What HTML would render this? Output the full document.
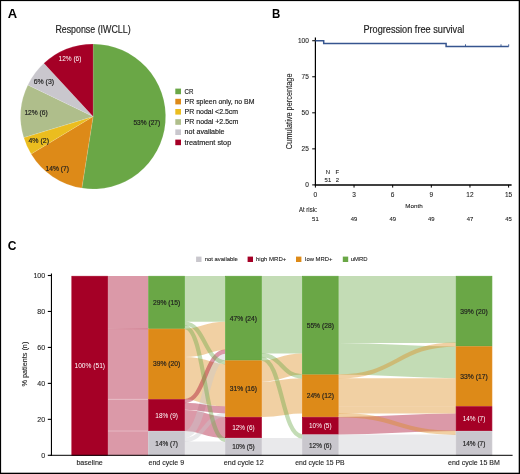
<!DOCTYPE html><html><head><meta charset="utf-8"><style>html,body{margin:0;padding:0;background:#fff;}svg{display:block;will-change:transform;}text{font-family:"Liberation Sans", sans-serif;}</style></head><body>
<svg width="520" height="474" viewBox="0 0 520 474">
<rect x="0" y="0" width="520" height="474" fill="#fff"/>
<text x="7.70" y="17.60" font-size="12.3" text-anchor="start" fill="#000" font-weight="bold" textLength="9.40" lengthAdjust="spacingAndGlyphs">A</text>
<text x="55.40" y="32.70" font-size="10.2" text-anchor="start" fill="#1e1e1e" stroke="#1e1e1e" stroke-width="0.18" textLength="75.20" lengthAdjust="spacingAndGlyphs">Response (IWCLL)</text>
<path d="M93.1,116.5 L93.10,44.00 A72.5,72.5 0 1 1 81.87,188.12 Z" fill="#6aa746" stroke="#fff" stroke-width="0.4" stroke-opacity="0.3"/>
<path d="M93.1,116.5 L81.87,188.12 A72.5,72.5 0 0 1 31.08,154.04 Z" fill="#dd8a18" stroke="#fff" stroke-width="0.4" stroke-opacity="0.3"/>
<path d="M93.1,116.5 L31.08,154.04 A72.5,72.5 0 0 1 23.74,137.61 Z" fill="#ebbd1f" stroke="#fff" stroke-width="0.4" stroke-opacity="0.3"/>
<path d="M93.1,116.5 L23.74,137.61 A72.5,72.5 0 0 1 27.85,84.90 Z" fill="#afbe8b" stroke="#fff" stroke-width="0.4" stroke-opacity="0.3"/>
<path d="M93.1,116.5 L27.85,84.90 A72.5,72.5 0 0 1 43.87,63.28 Z" fill="#c9c7cd" stroke="#fff" stroke-width="0.4" stroke-opacity="0.3"/>
<path d="M93.1,116.5 L43.87,63.28 A72.5,72.5 0 0 1 93.10,44.00 Z" fill="#a50026" stroke="#fff" stroke-width="0.4" stroke-opacity="0.3"/>
<text x="133.45" y="125.40" font-size="7.6" text-anchor="start" fill="#1e1e1e" stroke="#1e1e1e" stroke-width="0.18" textLength="26.75" lengthAdjust="spacingAndGlyphs">53% (27)</text>
<text x="45.50" y="170.60" font-size="7.6" text-anchor="start" fill="#1e1e1e" stroke="#1e1e1e" stroke-width="0.18" textLength="23.40" lengthAdjust="spacingAndGlyphs">14% (7)</text>
<text x="28.50" y="142.80" font-size="7.6" text-anchor="start" fill="#1e1e1e" stroke="#1e1e1e" stroke-width="0.18" textLength="20.50" lengthAdjust="spacingAndGlyphs">4% (2)</text>
<text x="24.40" y="115.00" font-size="7.6" text-anchor="start" fill="#1e1e1e" stroke="#1e1e1e" stroke-width="0.18" textLength="23.40" lengthAdjust="spacingAndGlyphs">12% (6)</text>
<text x="33.70" y="83.80" font-size="7.6" text-anchor="start" fill="#1e1e1e" stroke="#1e1e1e" stroke-width="0.18" textLength="20.40" lengthAdjust="spacingAndGlyphs">6% (3)</text>
<text x="58.50" y="60.50" font-size="7.6" text-anchor="start" fill="#ffffff" textLength="22.90" lengthAdjust="spacingAndGlyphs">12% (6)</text>
<rect x="175.3" y="88.60" width="5.7" height="5.6" fill="#6aa746"/>
<text x="184.60" y="93.90" font-size="7.6" text-anchor="start" fill="#1e1e1e" stroke="#1e1e1e" stroke-width="0.18" textLength="8.90" lengthAdjust="spacingAndGlyphs">CR</text>
<rect x="175.3" y="98.80" width="5.7" height="5.6" fill="#dd8a18"/>
<text x="184.60" y="103.90" font-size="7.6" text-anchor="start" fill="#1e1e1e" stroke="#1e1e1e" stroke-width="0.18" textLength="69.90" lengthAdjust="spacingAndGlyphs">PR spleen only, no BM</text>
<rect x="175.3" y="109.00" width="5.7" height="5.6" fill="#ebbd1f"/>
<text x="184.60" y="114.00" font-size="7.6" text-anchor="start" fill="#1e1e1e" stroke="#1e1e1e" stroke-width="0.18" textLength="53.50" lengthAdjust="spacingAndGlyphs">PR nodal &lt;2.5cm</text>
<rect x="175.3" y="119.20" width="5.7" height="5.6" fill="#afbe8b"/>
<text x="184.60" y="124.10" font-size="7.6" text-anchor="start" fill="#1e1e1e" stroke="#1e1e1e" stroke-width="0.18" textLength="53.80" lengthAdjust="spacingAndGlyphs">PR nodal +2.5cm</text>
<rect x="175.3" y="129.40" width="5.7" height="5.6" fill="#c9c7cd"/>
<text x="184.60" y="134.30" font-size="7.6" text-anchor="start" fill="#1e1e1e" stroke="#1e1e1e" stroke-width="0.18" textLength="40.00" lengthAdjust="spacingAndGlyphs">not available</text>
<rect x="175.3" y="139.60" width="5.7" height="5.6" fill="#a50026"/>
<text x="184.60" y="144.50" font-size="7.6" text-anchor="start" fill="#1e1e1e" stroke="#1e1e1e" stroke-width="0.18" textLength="46.60" lengthAdjust="spacingAndGlyphs">treatment stop</text>
<text x="271.90" y="17.60" font-size="12.3" text-anchor="start" fill="#000" font-weight="bold" textLength="8.30" lengthAdjust="spacingAndGlyphs">B</text>
<text x="363.40" y="32.60" font-size="10.1" text-anchor="start" fill="#1e1e1e" stroke="#1e1e1e" stroke-width="0.18" textLength="100.90" lengthAdjust="spacingAndGlyphs">Progression free survival</text>
<line x1="315.4" y1="37.6" x2="315.4" y2="185.6" stroke="#000" stroke-width="1.2"/>
<line x1="314.79999999999995" y1="184.9" x2="511.6" y2="184.9" stroke="#000" stroke-width="1.5"/>
<line x1="312.2" y1="184.90" x2="315.4" y2="184.90" stroke="#000" stroke-width="1"/>
<text x="308.80" y="187.20" font-size="6.5" text-anchor="end" fill="#1e1e1e" stroke="#1e1e1e" stroke-width="0.1">0</text>
<line x1="312.2" y1="148.86" x2="315.4" y2="148.86" stroke="#000" stroke-width="1"/>
<text x="308.80" y="151.16" font-size="6.5" text-anchor="end" fill="#1e1e1e" stroke="#1e1e1e" stroke-width="0.1">25</text>
<line x1="312.2" y1="112.82" x2="315.4" y2="112.82" stroke="#000" stroke-width="1"/>
<text x="308.80" y="115.12" font-size="6.5" text-anchor="end" fill="#1e1e1e" stroke="#1e1e1e" stroke-width="0.1">50</text>
<line x1="312.2" y1="76.78" x2="315.4" y2="76.78" stroke="#000" stroke-width="1"/>
<text x="308.80" y="79.08" font-size="6.5" text-anchor="end" fill="#1e1e1e" stroke="#1e1e1e" stroke-width="0.1">75</text>
<line x1="312.2" y1="40.74" x2="315.4" y2="40.74" stroke="#000" stroke-width="1"/>
<text x="308.80" y="43.04" font-size="6.5" text-anchor="end" fill="#1e1e1e" stroke="#1e1e1e" stroke-width="0.1">100</text>
<line x1="315.40" y1="184.9" x2="315.40" y2="187.6" stroke="#000" stroke-width="1"/>
<text x="315.40" y="197.40" font-size="6.5" text-anchor="middle" fill="#1e1e1e" stroke="#1e1e1e" stroke-width="0.1">0</text>
<line x1="354.04" y1="184.9" x2="354.04" y2="187.6" stroke="#000" stroke-width="1"/>
<text x="354.04" y="197.40" font-size="6.5" text-anchor="middle" fill="#1e1e1e" stroke="#1e1e1e" stroke-width="0.1">3</text>
<line x1="392.68" y1="184.9" x2="392.68" y2="187.6" stroke="#000" stroke-width="1"/>
<text x="392.68" y="197.40" font-size="6.5" text-anchor="middle" fill="#1e1e1e" stroke="#1e1e1e" stroke-width="0.1">6</text>
<line x1="431.32" y1="184.9" x2="431.32" y2="187.6" stroke="#000" stroke-width="1"/>
<text x="431.32" y="197.40" font-size="6.5" text-anchor="middle" fill="#1e1e1e" stroke="#1e1e1e" stroke-width="0.1">9</text>
<line x1="469.96" y1="184.9" x2="469.96" y2="187.6" stroke="#000" stroke-width="1"/>
<text x="469.96" y="197.40" font-size="6.5" text-anchor="middle" fill="#1e1e1e" stroke="#1e1e1e" stroke-width="0.1">12</text>
<line x1="508.60" y1="184.9" x2="508.60" y2="187.6" stroke="#000" stroke-width="1"/>
<text x="508.60" y="197.40" font-size="6.5" text-anchor="middle" fill="#1e1e1e" stroke="#1e1e1e" stroke-width="0.1">15</text>
<text x="405.30" y="208.20" font-size="6.0" text-anchor="start" fill="#1e1e1e" stroke="#1e1e1e" stroke-width="0.1" textLength="17.30" lengthAdjust="spacingAndGlyphs">Month</text>
<text x="299.00" y="212.00" font-size="6.3" text-anchor="start" fill="#1e1e1e" stroke="#1e1e1e" stroke-width="0.1" textLength="18.30" lengthAdjust="spacingAndGlyphs">At risk:</text>
<text x="315.40" y="221.00" font-size="5.9" text-anchor="middle" fill="#1e1e1e" stroke="#1e1e1e" stroke-width="0.1">51</text>
<text x="354.04" y="221.00" font-size="5.9" text-anchor="middle" fill="#1e1e1e" stroke="#1e1e1e" stroke-width="0.1">49</text>
<text x="392.68" y="221.00" font-size="5.9" text-anchor="middle" fill="#1e1e1e" stroke="#1e1e1e" stroke-width="0.1">49</text>
<text x="431.32" y="221.00" font-size="5.9" text-anchor="middle" fill="#1e1e1e" stroke="#1e1e1e" stroke-width="0.1">49</text>
<text x="469.96" y="221.00" font-size="5.9" text-anchor="middle" fill="#1e1e1e" stroke="#1e1e1e" stroke-width="0.1">47</text>
<text x="508.60" y="221.00" font-size="5.9" text-anchor="middle" fill="#1e1e1e" stroke="#1e1e1e" stroke-width="0.1">45</text>
<text x="328.00" y="174.40" font-size="5.9" text-anchor="middle" fill="#1e1e1e" stroke="#1e1e1e" stroke-width="0.1">N</text>
<text x="337.30" y="174.40" font-size="5.9" text-anchor="middle" fill="#1e1e1e" stroke="#1e1e1e" stroke-width="0.1">F</text>
<text x="327.90" y="181.60" font-size="5.9" text-anchor="middle" fill="#1e1e1e" stroke="#1e1e1e" stroke-width="0.1">51</text>
<text x="337.40" y="181.60" font-size="5.9" text-anchor="middle" fill="#1e1e1e" stroke="#1e1e1e" stroke-width="0.1">2</text>
<text transform="translate(292.40,111.40) rotate(-90)" font-size="8.9" text-anchor="middle" fill="#1e1e1e" stroke="#1e1e1e" stroke-width="0.1" textLength="75.80" lengthAdjust="spacingAndGlyphs">Cumulative percentage</text>
<path d="M315.4,40.74 H323.7 V43.62 H446.1 V46.51 H508.7" fill="none" stroke="#36558f" stroke-width="1.5"/>
<line x1="465.5" y1="44.31" x2="465.5" y2="46.51" stroke="#36558f" stroke-width="0.9"/>
<line x1="501.0" y1="44.31" x2="501.0" y2="46.51" stroke="#36558f" stroke-width="0.9"/>
<line x1="508.7" y1="44.31" x2="508.7" y2="46.51" stroke="#36558f" stroke-width="0.9"/>
<text x="7.70" y="249.50" font-size="12.3" text-anchor="start" fill="#000" font-weight="bold" textLength="8.70" lengthAdjust="spacingAndGlyphs">C</text>
<rect x="196.1" y="256.6" width="5.4" height="5.4" fill="#c9c7cd"/>
<text x="204.70" y="260.80" font-size="5.9" text-anchor="start" fill="#1e1e1e" stroke="#1e1e1e" stroke-width="0.1" textLength="33.20" lengthAdjust="spacingAndGlyphs">not available</text>
<rect x="247.6" y="256.6" width="5.4" height="5.4" fill="#a50026"/>
<text x="256.00" y="260.80" font-size="5.9" text-anchor="start" fill="#1e1e1e" stroke="#1e1e1e" stroke-width="0.1" textLength="30.30" lengthAdjust="spacingAndGlyphs">high MRD+</text>
<rect x="296.0" y="256.6" width="5.4" height="5.4" fill="#dd8a18"/>
<text x="305.10" y="260.80" font-size="5.9" text-anchor="start" fill="#1e1e1e" stroke="#1e1e1e" stroke-width="0.1" textLength="27.30" lengthAdjust="spacingAndGlyphs">low MRD+</text>
<rect x="342.8" y="256.6" width="5.4" height="5.4" fill="#6aa746"/>
<text x="350.80" y="260.80" font-size="5.9" text-anchor="start" fill="#1e1e1e" stroke="#1e1e1e" stroke-width="0.1" textLength="16.80" lengthAdjust="spacingAndGlyphs">uMRD</text>
<g>
<path d="M108.00,364.04 C128.18,364.04 128.18,364.04 148.35,364.04" fill="none" stroke="#a50026" stroke-opacity="0.4" stroke-width="70.51"/>
<path d="M108.00,302.34 C128.18,302.34 128.18,302.34 148.35,302.34" fill="none" stroke="#a50026" stroke-opacity="0.4" stroke-width="52.88"/>
<path d="M108.00,415.16 C128.18,415.16 128.18,415.16 148.35,415.16" fill="none" stroke="#a50026" stroke-opacity="0.4" stroke-width="31.73"/>
<path d="M108.00,443.36 C128.18,443.36 128.18,443.36 148.35,443.36" fill="none" stroke="#a50026" stroke-opacity="0.4" stroke-width="24.68"/>
<path d="M184.85,298.82 C205.02,298.82 205.02,298.82 225.20,298.82" fill="none" stroke="#6aa746" stroke-opacity="0.4" stroke-width="45.83"/>
<path d="M184.85,378.14 C205.02,378.14 205.02,385.19 225.20,385.19" fill="none" stroke="#dd8a18" stroke-opacity="0.4" stroke-width="42.31"/>
<path d="M184.85,342.88 C205.02,342.88 205.02,335.83 225.20,335.83" fill="none" stroke="#dd8a18" stroke-opacity="0.4" stroke-width="28.20"/>
<path d="M184.85,420.45 C205.02,420.45 205.02,427.50 225.20,427.50" fill="none" stroke="#a50026" stroke-opacity="0.4" stroke-width="21.15"/>
<path d="M184.85,448.65 C205.02,448.65 205.02,448.65 225.20,448.65" fill="none" stroke="#c9c7cd" stroke-opacity="0.4" stroke-width="14.10"/>
<path d="M184.85,434.55 C205.02,434.55 205.02,356.99 225.20,356.99" fill="none" stroke="#c9c7cd" stroke-opacity="0.4" stroke-width="7.05"/>
<path d="M184.85,406.34 C205.02,406.34 205.02,409.87 225.20,409.87" fill="none" stroke="#a50026" stroke-opacity="0.4" stroke-width="7.05"/>
<path d="M184.85,439.84 C205.02,439.84 205.02,415.16 225.20,415.16" fill="none" stroke="#c9c7cd" stroke-opacity="0.4" stroke-width="4.23"/>
<path d="M184.85,401.05 C205.02,401.05 205.02,351.70 225.20,351.70" fill="none" stroke="#a50026" stroke-opacity="0.4" stroke-width="4.23"/>
<path d="M184.85,323.49 C205.02,323.49 205.02,362.27 225.20,362.27" fill="none" stroke="#6aa746" stroke-opacity="0.4" stroke-width="4.23"/>
<path d="M184.85,327.02 C205.02,327.02 205.02,439.84 225.20,439.84" fill="none" stroke="#6aa746" stroke-opacity="0.4" stroke-width="4.23"/>
<path d="M261.70,314.68 C281.88,314.68 281.88,314.68 302.05,314.68" fill="none" stroke="#6aa746" stroke-opacity="0.4" stroke-width="77.56"/>
<path d="M261.70,399.29 C281.88,399.29 281.88,395.77 302.05,395.77" fill="none" stroke="#dd8a18" stroke-opacity="0.4" stroke-width="35.25"/>
<path d="M261.70,371.09 C281.88,371.09 281.88,364.04 302.05,364.04" fill="none" stroke="#dd8a18" stroke-opacity="0.4" stroke-width="21.15"/>
<path d="M261.70,446.89 C281.88,446.89 281.88,446.89 302.05,446.89" fill="none" stroke="#c9c7cd" stroke-opacity="0.4" stroke-width="17.63"/>
<path d="M261.70,355.22 C281.88,355.22 281.88,376.38 302.05,376.38" fill="none" stroke="#6aa746" stroke-opacity="0.4" stroke-width="4.23"/>
<path d="M261.70,358.75 C281.88,358.75 281.88,436.31 302.05,436.31" fill="none" stroke="#6aa746" stroke-opacity="0.4" stroke-width="4.23"/>
<path d="M338.55,309.39 C397.15,309.39 397.15,309.39 455.75,309.39" fill="none" stroke="#6aa746" stroke-opacity="0.4" stroke-width="66.98"/>
<path d="M338.55,358.75 C397.15,358.75 397.15,362.27 455.75,362.27" fill="none" stroke="#6aa746" stroke-opacity="0.4" stroke-width="31.73"/>
<path d="M338.55,392.24 C397.15,392.24 397.15,392.24 455.75,392.24" fill="none" stroke="#dd8a18" stroke-opacity="0.4" stroke-width="28.20"/>
<path d="M338.55,445.12 C397.15,445.12 397.15,445.12 455.75,445.12" fill="none" stroke="#c9c7cd" stroke-opacity="0.4" stroke-width="21.15"/>
<path d="M338.55,425.73 C397.15,425.73 397.15,422.21 455.75,422.21" fill="none" stroke="#a50026" stroke-opacity="0.4" stroke-width="17.63"/>
<path d="M338.55,409.87 C397.15,409.87 397.15,409.87 455.75,409.87" fill="none" stroke="#dd8a18" stroke-opacity="0.4" stroke-width="7.05"/>
<path d="M338.55,376.38 C397.15,376.38 397.15,344.65 455.75,344.65" fill="none" stroke="#dd8a18" stroke-opacity="0.4" stroke-width="4.23"/>
<path d="M338.55,415.16 C397.15,415.16 397.15,432.78 455.75,432.78" fill="none" stroke="#dd8a18" stroke-opacity="0.4" stroke-width="4.23"/>
</g>
<defs><linearGradient id="gd" x1="0" x2="1" y1="0" y2="0"><stop offset="0" stop-color="#a50026" stop-opacity="0.03"/><stop offset="1" stop-color="#a50026" stop-opacity="0.22"/></linearGradient></defs>
<rect x="108.00" y="328.28" width="40.35" height="1" fill="url(#gd)"/>
<rect x="108.00" y="398.84" width="40.35" height="0.9" fill="#fff" fill-opacity="0.35"/>
<rect x="108.00" y="430.57" width="40.35" height="0.9" fill="#fff" fill-opacity="0.35"/>
<rect x="71.85" y="276.25" width="35.80" height="179.10" fill="#a50026" stroke="#a50026" stroke-width="0.7"/>
<rect x="148.70" y="276.25" width="35.80" height="52.18" fill="#6aa746" stroke="#5da53a" stroke-width="0.7"/>
<rect x="148.70" y="329.13" width="35.80" height="69.81" fill="#dd8a18" stroke="#e1820e" stroke-width="0.7"/>
<rect x="148.70" y="399.64" width="35.80" height="31.03" fill="#a50026" stroke="#a50026" stroke-width="0.7"/>
<rect x="148.70" y="431.37" width="35.80" height="23.98" fill="#c9c7cd" stroke="#c9c7cd" stroke-width="0.7"/>
<rect x="225.55" y="276.25" width="35.80" height="83.91" fill="#6aa746" stroke="#5da53a" stroke-width="0.7"/>
<rect x="225.55" y="360.86" width="35.80" height="55.71" fill="#dd8a18" stroke="#e1820e" stroke-width="0.7"/>
<rect x="225.55" y="417.27" width="35.80" height="20.45" fill="#a50026" stroke="#a50026" stroke-width="0.7"/>
<rect x="225.55" y="438.42" width="35.80" height="16.93" fill="#c9c7cd" stroke="#c9c7cd" stroke-width="0.7"/>
<rect x="302.40" y="276.25" width="35.80" height="98.01" fill="#6aa746" stroke="#5da53a" stroke-width="0.7"/>
<rect x="302.40" y="374.96" width="35.80" height="41.61" fill="#dd8a18" stroke="#e1820e" stroke-width="0.7"/>
<rect x="302.40" y="417.27" width="35.80" height="16.93" fill="#a50026" stroke="#a50026" stroke-width="0.7"/>
<rect x="302.40" y="434.90" width="35.80" height="20.45" fill="#c9c7cd" stroke="#c9c7cd" stroke-width="0.7"/>
<rect x="456.10" y="276.25" width="35.80" height="69.81" fill="#6aa746" stroke="#5da53a" stroke-width="0.7"/>
<rect x="456.10" y="346.76" width="35.80" height="59.23" fill="#dd8a18" stroke="#e1820e" stroke-width="0.7"/>
<rect x="456.10" y="406.69" width="35.80" height="23.98" fill="#a50026" stroke="#a50026" stroke-width="0.7"/>
<rect x="456.10" y="431.37" width="35.80" height="23.98" fill="#c9c7cd" stroke="#c9c7cd" stroke-width="0.7"/>
<text x="89.75" y="368.20" font-size="7.9" text-anchor="middle" fill="#ffffff" textLength="30.60" lengthAdjust="spacingAndGlyphs">100% (51)</text>
<text x="166.60" y="304.74" font-size="7.9" text-anchor="middle" fill="#1e1e1e" stroke="#1e1e1e" stroke-width="0.18" textLength="27.30" lengthAdjust="spacingAndGlyphs">29% (15)</text>
<text x="166.60" y="366.44" font-size="7.9" text-anchor="middle" fill="#1e1e1e" stroke="#1e1e1e" stroke-width="0.18" textLength="27.30" lengthAdjust="spacingAndGlyphs">39% (20)</text>
<text x="166.60" y="417.56" font-size="7.9" text-anchor="middle" fill="#ffffff" textLength="22.60" lengthAdjust="spacingAndGlyphs">18% (9)</text>
<text x="166.60" y="445.76" font-size="7.9" text-anchor="middle" fill="#1e1e1e" stroke="#1e1e1e" stroke-width="0.18" textLength="22.60" lengthAdjust="spacingAndGlyphs">14% (7)</text>
<text x="243.45" y="320.61" font-size="7.9" text-anchor="middle" fill="#1e1e1e" stroke="#1e1e1e" stroke-width="0.18" textLength="27.30" lengthAdjust="spacingAndGlyphs">47% (24)</text>
<text x="243.45" y="391.12" font-size="7.9" text-anchor="middle" fill="#1e1e1e" stroke="#1e1e1e" stroke-width="0.18" textLength="27.30" lengthAdjust="spacingAndGlyphs">31% (16)</text>
<text x="243.45" y="429.90" font-size="7.9" text-anchor="middle" fill="#ffffff" textLength="22.60" lengthAdjust="spacingAndGlyphs">12% (6)</text>
<text x="243.45" y="449.29" font-size="7.9" text-anchor="middle" fill="#1e1e1e" stroke="#1e1e1e" stroke-width="0.18" textLength="22.60" lengthAdjust="spacingAndGlyphs">10% (5)</text>
<text x="320.30" y="327.66" font-size="7.9" text-anchor="middle" fill="#1e1e1e" stroke="#1e1e1e" stroke-width="0.18" textLength="27.30" lengthAdjust="spacingAndGlyphs">55% (28)</text>
<text x="320.30" y="398.17" font-size="7.9" text-anchor="middle" fill="#1e1e1e" stroke="#1e1e1e" stroke-width="0.18" textLength="27.30" lengthAdjust="spacingAndGlyphs">24% (12)</text>
<text x="320.30" y="428.13" font-size="7.9" text-anchor="middle" fill="#ffffff" textLength="22.60" lengthAdjust="spacingAndGlyphs">10% (5)</text>
<text x="320.30" y="447.52" font-size="7.9" text-anchor="middle" fill="#1e1e1e" stroke="#1e1e1e" stroke-width="0.18" textLength="22.60" lengthAdjust="spacingAndGlyphs">12% (6)</text>
<text x="474.00" y="313.55" font-size="7.9" text-anchor="middle" fill="#1e1e1e" stroke="#1e1e1e" stroke-width="0.18" textLength="27.30" lengthAdjust="spacingAndGlyphs">39% (20)</text>
<text x="474.00" y="378.78" font-size="7.9" text-anchor="middle" fill="#1e1e1e" stroke="#1e1e1e" stroke-width="0.18" textLength="27.30" lengthAdjust="spacingAndGlyphs">33% (17)</text>
<text x="474.00" y="421.08" font-size="7.9" text-anchor="middle" fill="#ffffff" textLength="22.60" lengthAdjust="spacingAndGlyphs">14% (7)</text>
<text x="474.00" y="445.76" font-size="7.9" text-anchor="middle" fill="#1e1e1e" stroke="#1e1e1e" stroke-width="0.18" textLength="22.60" lengthAdjust="spacingAndGlyphs">14% (7)</text>
<line x1="51.45" y1="273.4" x2="51.45" y2="455.8" stroke="#000" stroke-width="1.1"/>
<line x1="50.4" y1="455.3" x2="512.6" y2="455.3" stroke="#000" stroke-width="1.0"/>
<line x1="47.8" y1="455.30" x2="51.5" y2="455.30" stroke="#000" stroke-width="1.1"/>
<text x="45.10" y="457.80" font-size="7.0" text-anchor="end" fill="#1e1e1e" stroke="#1e1e1e" stroke-width="0.1">0</text>
<line x1="47.8" y1="419.34" x2="51.5" y2="419.34" stroke="#000" stroke-width="1.1"/>
<text x="45.10" y="421.84" font-size="7.0" text-anchor="end" fill="#1e1e1e" stroke="#1e1e1e" stroke-width="0.1">20</text>
<line x1="47.8" y1="383.38" x2="51.5" y2="383.38" stroke="#000" stroke-width="1.1"/>
<text x="45.10" y="385.88" font-size="7.0" text-anchor="end" fill="#1e1e1e" stroke="#1e1e1e" stroke-width="0.1">40</text>
<line x1="47.8" y1="347.42" x2="51.5" y2="347.42" stroke="#000" stroke-width="1.1"/>
<text x="45.10" y="349.92" font-size="7.0" text-anchor="end" fill="#1e1e1e" stroke="#1e1e1e" stroke-width="0.1">60</text>
<line x1="47.8" y1="311.46" x2="51.5" y2="311.46" stroke="#000" stroke-width="1.1"/>
<text x="45.10" y="313.96" font-size="7.0" text-anchor="end" fill="#1e1e1e" stroke="#1e1e1e" stroke-width="0.1">80</text>
<line x1="47.8" y1="275.50" x2="51.5" y2="275.50" stroke="#000" stroke-width="1.1"/>
<text x="45.10" y="278.00" font-size="7.0" text-anchor="end" fill="#1e1e1e" stroke="#1e1e1e" stroke-width="0.1">100</text>
<text transform="translate(27.30,364.10) rotate(-90)" font-size="8.0" text-anchor="middle" fill="#1e1e1e" stroke="#1e1e1e" stroke-width="0.1" textLength="44.80" lengthAdjust="spacingAndGlyphs">% patients (n)</text>
<text x="76.40" y="465.10" font-size="7.4" text-anchor="start" fill="#1e1e1e" stroke="#1e1e1e" stroke-width="0.12" textLength="26.40" lengthAdjust="spacingAndGlyphs">baseline</text>
<text x="148.50" y="465.10" font-size="7.4" text-anchor="start" fill="#1e1e1e" stroke="#1e1e1e" stroke-width="0.12" textLength="35.60" lengthAdjust="spacingAndGlyphs">end cycle 9</text>
<text x="223.70" y="465.10" font-size="7.4" text-anchor="start" fill="#1e1e1e" stroke="#1e1e1e" stroke-width="0.12" textLength="40.10" lengthAdjust="spacingAndGlyphs">end cycle 12</text>
<text x="295.20" y="465.10" font-size="7.4" text-anchor="start" fill="#1e1e1e" stroke="#1e1e1e" stroke-width="0.12" textLength="49.40" lengthAdjust="spacingAndGlyphs">end cycle 15 PB</text>
<text x="448.00" y="465.10" font-size="7.4" text-anchor="start" fill="#1e1e1e" stroke="#1e1e1e" stroke-width="0.12" textLength="51.90" lengthAdjust="spacingAndGlyphs">end cycle 15 BM</text>
<rect x="0" y="0" width="520" height="1.1" fill="#000"/>
<rect x="0" y="0" width="1.1" height="474" fill="#000"/>
<rect x="518.7" y="0" width="1.3" height="474" fill="#000"/>
<rect x="0" y="472.7" width="520" height="1.3" fill="#000"/>
</svg></body></html>
